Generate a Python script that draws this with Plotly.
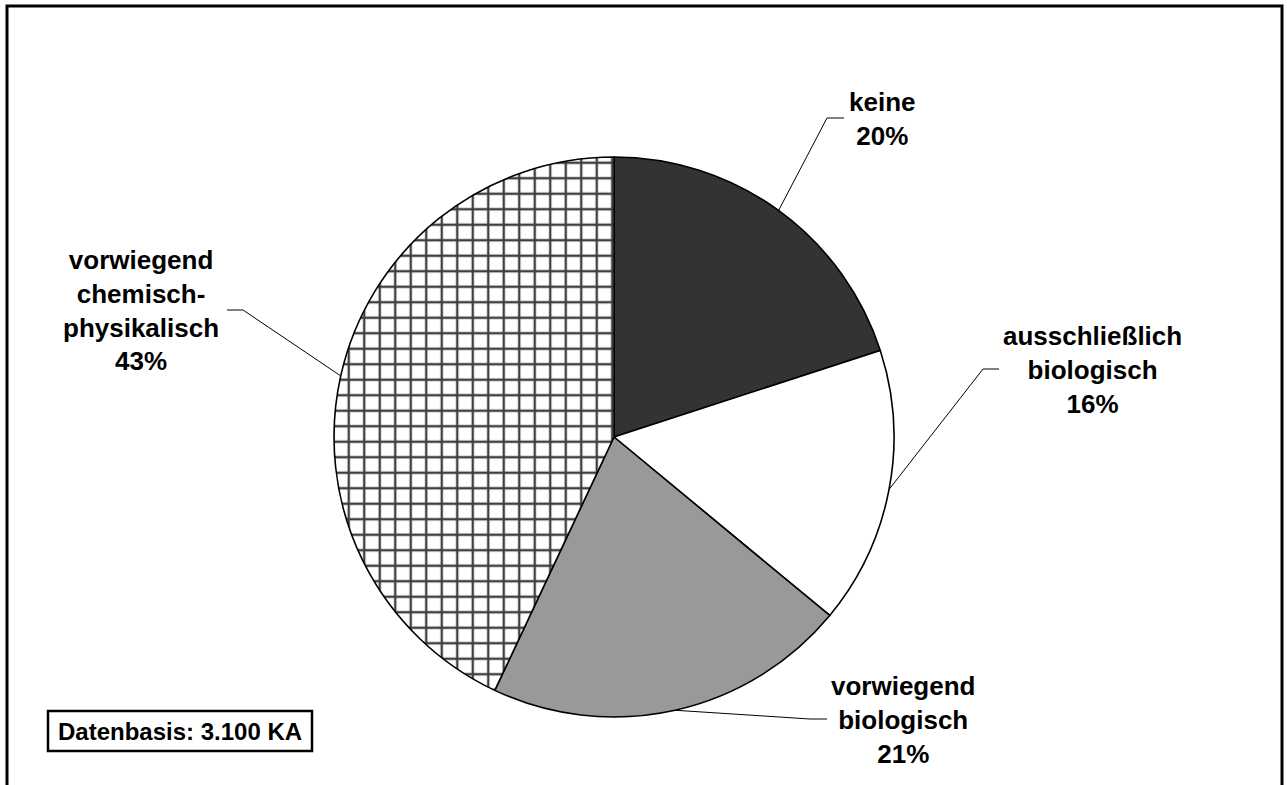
import math
import plotly.graph_objects as go

# Treatment categories (clockwise from 12 o'clock) and their shares in percent
categories = ["keine", "ausschließlich biologisch", "vorwiegend biologisch",
              "vorwiegend chemisch-physikalisch"]
label_lines = [["keine"], ["ausschließlich", "biologisch"], ["vorwiegend", "biologisch"],
               ["vorwiegend", "chemisch-", "physikalisch"]]
shares = [20, 16, 21, 43]
fill_colors = ["#333333", "#ffffff", "#999999", "#ffffff"]
fill_patterns = ["", "", "", "+"]
data_basis = "Datenbasis: 3.100 KA"

W, H = 1287, 785
FONT = "Liberation Sans, Arial, Helvetica, sans-serif"

# Pie placement in pixels
CX, CY, R = 614, 437, 280

# Label anchors (pixel centres) and leader-line elbows (pixel)
label_pos = [(882, 119), (1092, 370), (903, 720), (141, 310)]
elbows = [((827, 118), (844, 118)),
          ((983, 369), (999, 369)),
          ((810, 719), (827, 719)),
          ((243, 310), (227, 310))]


def px(x):
    return x / W


def py(y):
    return 1 - y / H


fig = go.Figure()
fig.add_trace(go.Pie(
    labels=categories,
    values=shares,
    sort=False,
    direction="clockwise",
    rotation=0,
    textinfo="none",
    hoverinfo="label+percent",
    showlegend=False,
    marker=dict(
        colors=fill_colors,
        line=dict(color="#000000", width=1.6),
        pattern=dict(shape=fill_patterns, fgcolor="#3f3f3f", bgcolor="#ffffff",
                     size=15.5, solidity=0.28, fillmode="replace"),
    ),
    domain=dict(x=[px(CX - R), px(CX + R)], y=[py(CY + R), py(CY - R)]),
))

shapes = []
annotations = []
total = sum(shares)
cum = 0.0
for i, v in enumerate(shares):
    mid = (cum + v / 2) / total * 2 * math.pi
    cum += v
    ex, ey = CX + R * math.sin(mid), CY - R * math.cos(mid)
    (bx, by), (hx, hy) = elbows[i]
    shapes.append(dict(type="path", xref="paper", yref="paper",
                       path=f"M {px(ex)} {py(ey)} L {px(bx)} {py(by)} L {px(hx)} {py(hy)}",
                       line=dict(color="#000000", width=1)))
    text = "<br>".join(label_lines[i] + [f"{v}%"])
    lx, ly = label_pos[i]
    annotations.append(dict(x=px(lx), y=py(ly), xref="paper", yref="paper",
                            text=f"<b>{text}</b>", showarrow=False,
                            xanchor="center", yanchor="middle", align="center",
                            font=dict(family=FONT, size=26, color="#000000")))

# Outer frame (open at the bottom)
shapes.append(dict(type="path", xref="paper", yref="paper",
                   path=f"M {px(7)} -0.05 L {px(7)} {py(6)} L {px(1282)} {py(6)} L {px(1282)} -0.05",
                   line=dict(color="#000000", width=3)))

# Data basis box
shapes.append(dict(type="rect", xref="paper", yref="paper",
                   x0=px(48), x1=px(312), y0=py(751), y1=py(711),
                   line=dict(color="#000000", width=2.5), fillcolor="#ffffff"))
annotations.append(dict(x=px(180), y=py(731), xref="paper", yref="paper",
                        text=f"<b>{data_basis}</b>", showarrow=False,
                        xanchor="center", yanchor="middle",
                        font=dict(family=FONT, size=24, color="#000000")))

fig.update_layout(
    width=W, height=H,
    margin=dict(l=0, r=0, t=0, b=0),
    paper_bgcolor="#ffffff",
    plot_bgcolor="#ffffff",
    shapes=shapes,
    annotations=annotations,
)

fig.write_html("out.html", config={"displayModeBar": False})
